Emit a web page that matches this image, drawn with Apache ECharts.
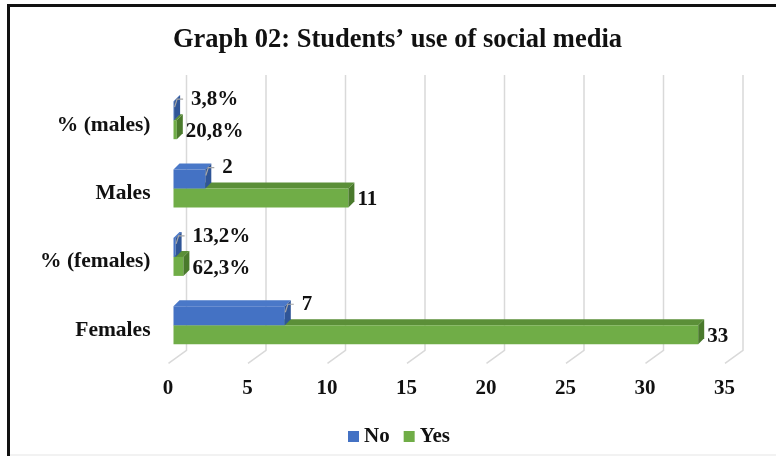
<!DOCTYPE html>
<html>
<head>
<meta charset="utf-8">
<script src="https://cdn.jsdelivr.net/npm/echarts@6/dist/echarts.min.js"></script>
<style>
  html, body { margin: 0; padding: 0; background: #fff; }
  #chart { width: 776px; height: 456px; }
</style>
</head>
<body>
<div id="chart"></div>
<script>
// Rows from bottom to top, two answers per row
const categories = ['Females', '% (females)', 'Males', '% (males)'];
const noValues = [7, 0.132, 2, 0.038];
const yesValues = [33, 0.623, 11, 0.208];
const xTicks = [0, 5, 10, 15, 20, 25, 30, 35];

const SERIF = "'Liberation Serif', 'Times New Roman', serif";
const DEPTH = 6;

function labelText(v) {
  return v < 1 ? (v * 100).toFixed(1).replace('.', ',') + '%' : String(v);
}

// Pseudo-3D bar: front face, top face and right side face
function makeBar(slot, front, top, side) {
  return function (params, api) {
    const v = api.value(0);
    const ci = api.value(1);
    const base = api.coord([0, ci]);
    const end = api.coord([v, ci]);
    const band = api.size([0, 1])[1];
    const th = band * 0.278;
    const yT = base[1] - band * 0.351 + slot * th;
    const x0 = base[0], x1 = end[0], d = DEPTH;
    const children = [
      { type: 'polygon', shape: { points: [[x0, yT], [x1, yT], [x1 + d, yT - d], [x0 + d, yT - d]] },
        style: { fill: top } },
      { type: 'rect', shape: { x: x0, y: yT, width: Math.max(x1 - x0, 0.6), height: th },
        style: { fill: front } },
      { type: 'polygon', shape: { points: [[x1, yT], [x1 + d, yT - d], [x1 + d, yT + th - d], [x1, yT + th]] },
        style: { fill: side } }
    ];
    if (slot === 0) {
      children.push({ type: 'polyline',
        shape: { points: [[x1 + 0.5, yT + 6], [x1 + 3, yT - 2], [x1 + 9, yT - 2]] },
        style: { stroke: '#a6a6a6', lineWidth: 1.2, fill: null } });
      children.push({ type: 'text', x: x1 + 17, y: yT - 1.5,
        style: { text: labelText(v), fill: '#111', font: 'bold 21px ' + SERIF,
                 textAlign: 'left', textVerticalAlign: 'middle' } });
    } else {
      children.push({ type: 'text', x: x1 + d + 3, y: yT + th / 2 + 2,
        style: { text: labelText(v), fill: '#111', font: 'bold 21px ' + SERIF,
                 textAlign: 'left', textVerticalAlign: 'middle' } });
    }
    return { type: 'group', children };
  };
}

// Back wall gridlines bending onto the floor
function renderWall(params, api) {
  const t = api.value(0);
  const p = api.coord([t, 0]);
  const cs = params.coordSys;
  const bottom = cs.y + cs.height;
  return {
    type: 'polyline',
    shape: { points: [[p[0] + 13, cs.y - 16], [p[0] + 13, bottom - 14], [p[0] - 5, bottom - 1]] },
    style: { stroke: '#d9d9d9', lineWidth: 1.5, fill: null }
  };
}

const chart = echarts.init(document.getElementById('chart'));
chart.setOption({
  animation: false,
  backgroundColor: '#fff',
  title: {
    text: 'Graph 02: Students’ use of social media',
    left: 173, top: 27, padding: 0,
    textStyle: { fontFamily: SERIF, fontWeight: 'bold', fontSize: 26.5, color: '#111' }
  },
  legend: {
    data: ['No', 'Yes'],
    left: 348, top: 426, padding: 0,
    icon: 'rect', itemWidth: 11, itemHeight: 11, itemGap: 14,
    textStyle: { fontFamily: SERIF, fontWeight: 'bold', fontSize: 21, color: '#111' }
  },
  grid: { left: 173.5, right: 46, top: 91, bottom: 91.6, containLabel: false },
  xAxis: {
    type: 'value', min: 0, max: 35, interval: 5,
    axisLine: { show: false }, axisTick: { show: false }, splitLine: { show: false },
    axisLabel: { margin: 14, padding: [0, 11, 0, 0], color: '#111',
                 fontFamily: SERIF, fontWeight: 'bold', fontSize: 21 }
  },
  yAxis: {
    type: 'category', data: categories,
    axisLine: { show: false }, axisTick: { show: false },
    axisLabel: { margin: 23, color: '#111', fontFamily: SERIF, fontWeight: 'bold', fontSize: 21.5 }
  },
  graphic: [
    { type: 'rect', shape: { x: 7, y: 4, width: 769, height: 3 }, style: { fill: '#111' } },
    { type: 'rect', shape: { x: 7, y: 4, width: 3, height: 452 }, style: { fill: '#111' } },
    { type: 'rect', shape: { x: 10, y: 454.5, width: 766, height: 1 }, style: { fill: '#e6e6e6' } }
  ],
  series: [
    { type: 'custom', name: 'wall', z: 1, renderItem: renderWall,
      data: xTicks.map(t => [t, 0]), silent: true, legendHoverLink: false },
    { type: 'custom', name: 'Yes', z: 2, itemStyle: { color: '#70AD47' },
      renderItem: makeBar(1, '#70AD47', '#5b8f38', '#4a7a2c'),
      data: yesValues.map((v, i) => [v, i]) },
    { type: 'custom', name: 'No', z: 3, itemStyle: { color: '#4472C4' },
      renderItem: makeBar(0, '#4472C4', '#4a78c8', '#2f5597'),
      data: noValues.map((v, i) => [v, i]) }
  ]
});
</script>
</body>
</html>
